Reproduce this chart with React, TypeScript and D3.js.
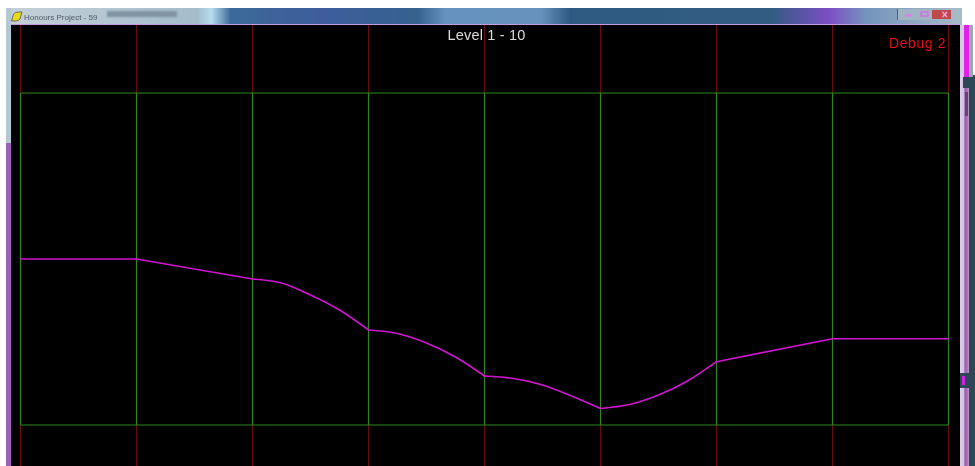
import React from "react";
import * as d3 from "d3";

const W = 975, H = 466;
const gridIndex = [0, 1, 2, 3, 4, 5, 6, 7, 8];
const flatStartX = [0, 1];
const flatStartY = [166, 166];
const slopeOneX = [1, 2];
const slopeOneY = [166, 146];
const bendOneX = [2, 2.25, 2.5, 2.75, 3];
const bendOneY = [146, 142, 130, 115, 95];
const bendTwoX = [3, 3.25, 3.5, 3.75, 4];
const bendTwoY = [95, 91.5, 82, 68, 49];
const bendThreeX = [4, 4.25, 4.5, 4.75, 5];
const bendThreeY = [49, 46.5, 40, 29, 16.5];
const bendFourX = [5, 5.25, 5.5, 5.75, 6];
const bendFourY = [16.5, 20.5, 30, 44, 63.3];
const slopeTwoX = [6, 7];
const slopeTwoY = [63.3, 86.3];
const flatEndX = [7, 8];
const flatEndY = [86.3, 86.3];
const pieces: [number[], number[]][] = [
  [flatStartX, flatStartY], [slopeOneX, slopeOneY], [bendOneX, bendOneY], [bendTwoX, bendTwoY],
  [bendThreeX, bendThreeY], [bendFourX, bendFourY], [slopeTwoX, slopeTwoY], [flatEndX, flatEndY],
];
const title = "Level 1 - 10";
const debugLabel = "Debug 2";
const windowTitle = "Honours Project - 59";

const x = d3.scaleLinear().domain([0, 8]).range([20.5, 948.5]);
const y = d3.scaleLinear().domain([0, 332]).range([425, 93]);
const pieceLine = (xs: number[], ys: number[]) =>
  d3.line<number>().x((d) => x(d)).y((_, i) => y(ys[i])).curve(d3.curveMonotoneX)(xs) ?? "";

export default function App() {
  return (
    <svg width={W} height={H} style={{ position: "fixed", left: 0, top: 0, display: "block" }}>
      <defs>
        <filter id="soft" filterUnits="userSpaceOnUse" x="0" y="0" width={W} height={H}>
          <feGaussianBlur stdDeviation="0.4" />
        </filter>
        <filter id="softer" filterUnits="userSpaceOnUse" x="90" y="0" width="110" height="30">
          <feGaussianBlur stdDeviation="1.2" />
        </filter>
        <linearGradient id="bar" x1="0" x2="1" y1="0" y2="0">
          <stop offset="0" stopColor="#c4d0d8" />
          <stop offset="0.11" stopColor="#b4c6d2" />
          <stop offset="0.2" stopColor="#a4bccc" />
          <stop offset="0.215" stopColor="#b8dcee" />
          <stop offset="0.235" stopColor="#3a6a98" />
          <stop offset="0.33" stopColor="#3f5c9c" />
          <stop offset="0.43" stopColor="#34628e" />
          <stop offset="0.46" stopColor="#6692c0" />
          <stop offset="0.56" stopColor="#6692bc" />
          <stop offset="0.59" stopColor="#2e5a82" />
          <stop offset="0.8" stopColor="#315c80" />
          <stop offset="0.86" stopColor="#7c4ec4" />
          <stop offset="0.9" stopColor="#7494bc" />
          <stop offset="1" stopColor="#a8bcc8" />
        </linearGradient>
        <linearGradient id="frameR" x1="0" x2="1" y1="0" y2="0">
          <stop offset="0" stopColor="#dccdee" />
          <stop offset="0.4" stopColor="#d8c0e6" />
          <stop offset="0.55" stopColor="#9a5fa8" />
          <stop offset="0.8" stopColor="#a870b8" />
          <stop offset="1" stopColor="#b8a0c0" />
        </linearGradient>
      </defs>
      <rect width={W} height={H} fill="#ffffff" />
      <g filter="url(#soft)">
        <rect x={6} y={8} width={956} height={17} fill="url(#bar)" />
        <rect x={6} y={8} width={5} height={135} fill="#b4c8d4" />
        <rect x={6} y={143} width={5} height={323} fill="#9a62b8" />
        <rect x={969} y={75} width={6} height={391} fill="#2f4656" />
        <rect x={960} y={25} width={9} height={441} fill="url(#frameR)" />
        <rect x={960} y={25} width={4} height={50} fill="#d8c8e8" />
        <rect x={964} y={25} width={5} height={52} fill="#e020e8" />
        <rect x={969} y={25} width={4} height={52} fill="#9aa8b8" />
        <rect x={963} y={77} width={12} height={11} fill="#2f4656" />
        <rect x={965} y={92} width={3} height={24} fill="#5a4a70" />
        <rect x={960} y={373} width={15} height={15} fill="#2f4656" />
        <rect x={962} y={376} width={3} height={9} fill="#d020e0" />
        <rect x={11} y={24} width={949} height={1.5} fill="#c89ae0" />
        <rect x={11} y={25} width={949} height={441} fill="#000000" />
        {gridIndex.map((d) => (
          <line key={`r${d}`} x1={x(d)} x2={x(d)} y1={25} y2={H} stroke="#6a0c0c" strokeWidth={1} />
        ))}
        {gridIndex.map((d) => (
          <line key={`g${d}`} x1={x(d)} x2={x(d)} y1={y(0)} y2={y(332)} stroke="#32881e" strokeWidth={1.2} />
        ))}
        <line x1={x(0)} x2={x(8)} y1={y(332)} y2={y(332)} stroke="#32881e" strokeWidth={1.2} />
        <line x1={x(0)} x2={x(8)} y1={y(0)} y2={y(0)} stroke="#32881e" strokeWidth={1.2} />
        {pieces.map(([xs, ys], i) => (
          <path key={i} d={pieceLine(xs, ys)} fill="none" stroke="#d014d0" strokeWidth={1.6} strokeLinecap="round" />
        ))}
        <text x={486.5} y={40} textAnchor="middle" fill="#dcdcdc" fontFamily="Liberation Sans, Arial, sans-serif" fontSize={14.5} letterSpacing={0.2}>{title}</text>
        <text x={889} y={48} fill="#e80a14" fontFamily="Liberation Sans, Arial, sans-serif" fontSize={14} letterSpacing={0.6}>{debugLabel}</text>
        <path d="M11.5,21 L13.5,14 Q14.5,12 19,12 L22,12 L20,19 Q19,21 15,21 Z" fill="#e8d820" stroke="#444" strokeWidth={0.7} />
        <text x={24} y={19.5} fill="#4f5a64" fontFamily="Liberation Sans, Arial, sans-serif" fontSize={8}>{windowTitle}</text>
        <rect x={898} y={9} width={53} height={11} fill="#9fb4c4" />
        <rect x={897} y={9} width={1} height={11} fill="#506070" />
        <rect x={932} y={10} width={19} height={9} fill="#c04a4a" />
        <rect x={905} y={14.5} width={7} height={2} fill="#e878e8" />
        <rect x={921} y={12} width={7} height={4} fill="none" stroke="#e060e0" strokeWidth={1.2} />
        <path d="M942.5,12 L947,17 M947,12 L942.5,17" stroke="#f0a0e0" strokeWidth={1.4} />
      </g>
      <rect x={107} y={11} width={70} height={6} fill="#7f93a3" filter="url(#softer)" />
    </svg>
  );
}
